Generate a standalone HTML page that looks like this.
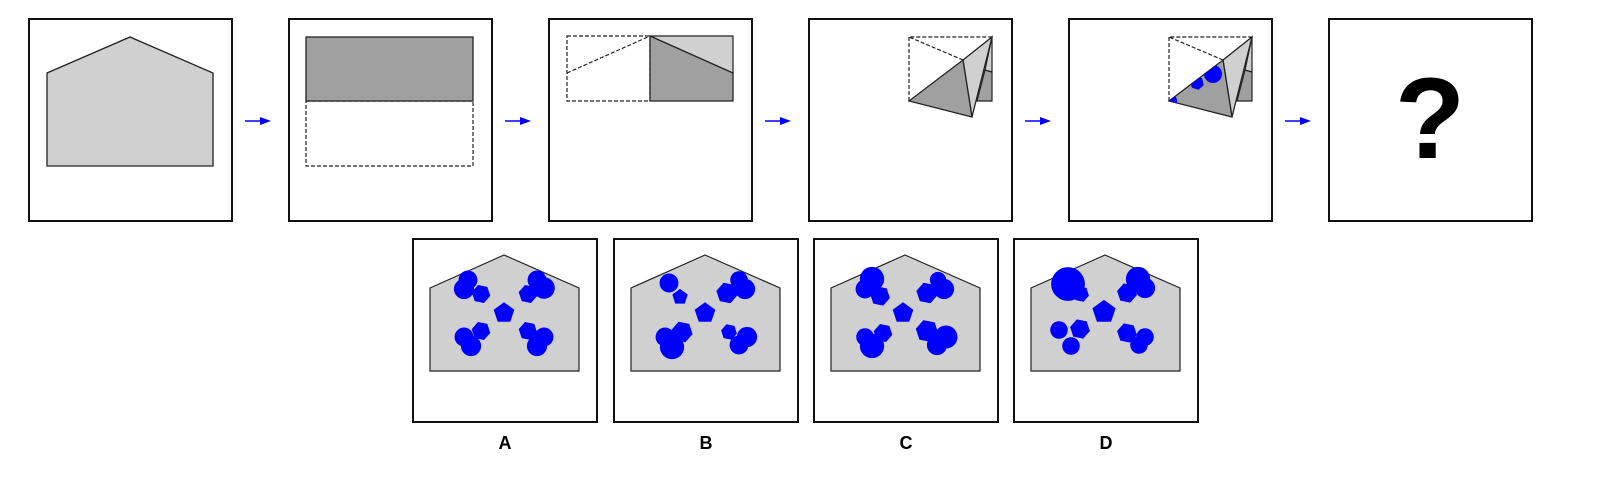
<!DOCTYPE html>
<html><head><meta charset="utf-8"><style>
html,body{margin:0;padding:0;background:#fff}
svg{display:block}
</style></head><body>
<svg id="s" width="1610" height="490" viewBox="0 0 1610 490" xmlns="http://www.w3.org/2000/svg" font-family="Liberation Sans, sans-serif">
<defs>
<clipPath id="triclip"><polygon points="1169,101 1223,60 1232,117"/></clipPath>
</defs>
<g id="toprow"></g>
<g id="optsrow"></g>
</svg>
<script>
var optLefts=[413,614,814,1014];
var labels=['A','B','C','D'];
var optA=[['c',55,41,7],['c',51,50,7.5],['h',68,55,7],['c',124,41,7],['c',131,49,8],['h',115,55,7],['p',91,74,8],['h',68,92,7],['c',51,98,7],['c',58,107,7.5],['h',115,92,7],['c',131,98,7],['c',124,107,7.5]];
var optB=[['c',55,44,7],['p',66,58,6],['c',125,41,6.5],['c',131,50,7.5],['h',113,54,8],['p',91,74,8],['c',51,98,7],['h',68,93,8],['c',58,108,9],['h',115,93,6],['c',133,98,7.5],['c',125,106,7]];
var optC=[['c',58,40,9],['c',51,50,7],['h',66,57,7.5],['c',124,41,6],['c',130,50,7.5],['h',113,54,8],['p',89,74,8],['c',51,98,6.5],['c',58,107,9],['h',69,94,7],['h',113,92,8.5],['c',132,98,8.5],['c',123,106,7.5]];
var optD=[['c',54,45,12.5],['h',67,55,6],['c',124,40,9],['c',131,49,7.5],['h',113,54,7.5],['p',90,73,9],['c',45,91,6.5],['h',66,90,7.5],['c',57,107,6.5],['h',113,94,7.5],['c',131,98,6.5],['c',125,106,6.5]];
(function(){
var NS='http://www.w3.org/2000/svg';
var RS=1.35;
function mk(tag,attrs,parent){var e=document.createElementNS(NS,tag);for(var k in attrs)e.setAttribute(k,attrs[k]);parent.appendChild(e);return e;}
function poly(cx,cy,r,n,rot,parent){var p=[];for(var k=0;k<n;k++){var t=rot+k*2*Math.PI/n;p.push((cx+r*Math.cos(t)).toFixed(1)+','+(cy+r*Math.sin(t)).toFixed(1));}return mk('polygon',{points:p.join(' '),fill:'#00f'},parent);}
var topRow=document.getElementById('toprow'),optsRow=document.getElementById('optsrow');
var P=[29,289,549,809,1069,1329];
for(var i=0;i<6;i++){
  var r=mk('rect',{x:P[i],y:19,width:203,height:202,fill:'#fff',stroke:'#111','stroke-width':2},topRow);
  
  
  if(i<5){
    var a=P[i]+216, y=121;
    var g=mk('g',{},topRow);
    
    
    mk('line',{x1:a,y1:y,x2:a+18,y2:y,stroke:'#00f','stroke-width':1.6},g);
    mk('polygon',{points:(a+15)+','+(y-4)+' '+(a+26)+','+y+' '+(a+15)+','+(y+4),fill:'#00f'},g);
  }
}
var L=P[0];
var h=mk('polygon',{points:(L+18)+',73 '+(L+101)+',37 '+(L+184)+',73 '+(L+184)+',166 '+(L+18)+',166',fill:'#d0d0d0',stroke:'#222','stroke-width':1.3},topRow);


L=P[1];
var r2=mk('rect',{x:L+17,y:101,width:167,height:65,fill:'none',stroke:'#222','stroke-width':1.2,'stroke-dasharray':'4,2'},topRow);


var r3=mk('rect',{x:L+17,y:37,width:167,height:64,fill:'#a0a0a0',stroke:'#222','stroke-width':1.3},topRow);


L=P[2];
var g3=mk('g',{},topRow);


mk('rect',{x:L+18,y:36,width:83,height:65,fill:'none',stroke:'#222','stroke-width':1.2,'stroke-dasharray':'4,2'},g3);
mk('line',{x1:L+18,y1:73,x2:L+101,y2:36,stroke:'#222','stroke-width':1.2,'stroke-dasharray':'4,2'},g3);
mk('polygon',{points:(L+101)+',36 '+(L+184)+',36 '+(L+184)+',73',fill:'#d0d0d0',stroke:'#222','stroke-width':1.2},g3);
mk('polygon',{points:(L+101)+',36 '+(L+184)+',73 '+(L+184)+',101 '+(L+101)+',101',fill:'#a0a0a0',stroke:'#222','stroke-width':1.3},g3);
function fold3(off,parent){
  mk('polygon',{points:(985+off)+',70 '+(992+off)+',72 '+(992+off)+',101 '+(977+off)+',101',fill:'#a0a0a0',stroke:'#222','stroke-width':1.2},parent);
  mk('polygon',{points:(992+off)+',37 '+(992+off)+',72 '+(985+off)+',70',fill:'#d0d0d0',stroke:'#222','stroke-width':1.2},parent);
  mk('polyline',{points:(963+off)+',60 '+(909+off)+',37 '+(992+off)+',37',fill:'none',stroke:'#222','stroke-width':1.2,'stroke-dasharray':'4,2'},parent);
  mk('line',{x1:909+off,y1:37,x2:909+off,y2:101,stroke:'#222','stroke-width':1.2,'stroke-dasharray':'4,2'},parent);
  mk('polygon',{points:(963+off)+',60 '+(992+off)+',37 '+(972+off)+',117',fill:'#d0d0d0',stroke:'#222','stroke-width':1.3},parent);
  mk('polygon',{points:(909+off)+',101 '+(963+off)+',60 '+(972+off)+',117',fill:'#a0a0a0',stroke:'#222','stroke-width':1.3},parent);
}
var g4=mk('g',{},topRow);


fold3(0,g4);
var g5=mk('g',{},topRow);


fold3(260,g5);
var cg=mk('g',{'clip-path':'url(#triclip)'},g5);
mk('circle',{cx:1213,cy:74,r:9,fill:'#00f'},cg);
poly(1197,83,7,6,0.3,cg);
mk('circle',{cx:1170,cy:101,r:7,fill:'#00f'},cg);
var q=mk('text',{x:1430,y:158,'font-size':115,'font-weight':'bold','text-anchor':'middle',fill:'#000'},topRow);
q.textContent='?';


var optShapes=[optA,optB,optC,optD];
for(var j=0;j<4;j++){
  var x=optLefts[j], y0=239;
  var go=mk('g',{},optsRow);
  
  
  mk('rect',{x:x,y:y0,width:184,height:183,fill:'#fff',stroke:'#111','stroke-width':2},go);
  mk('polygon',{points:(x+17)+','+(y0+49)+' '+(x+91)+','+(y0+16)+' '+(x+166)+','+(y0+49)+' '+(x+166)+','+(y0+132)+' '+(x+17)+','+(y0+132),fill:'#d0d0d0',stroke:'#222','stroke-width':1.2},go);
  var sh=optShapes[j];
  for(var k=0;k<sh.length;k++){
    var s=sh[k];
    if(s[0]==='c'){mk('circle',{cx:x+s[1],cy:y0+s[2],r:s[3]*RS,fill:'#00f'},go);}
    else if(s[0]==='h'){poly(x+s[1],y0+s[2],s[3]*RS,6,0.2,go);}
    else{poly(x+s[1],y0+s[2],s[3]*RS,5,-Math.PI/2,go);}
  }
  var t=mk('text',{x:x+92,y:449,'font-size':18,'font-weight':'bold','text-anchor':'middle',fill:'#000'},optsRow);
  t.textContent=labels[j];
  
  
}
})();
</script>
</body></html>
